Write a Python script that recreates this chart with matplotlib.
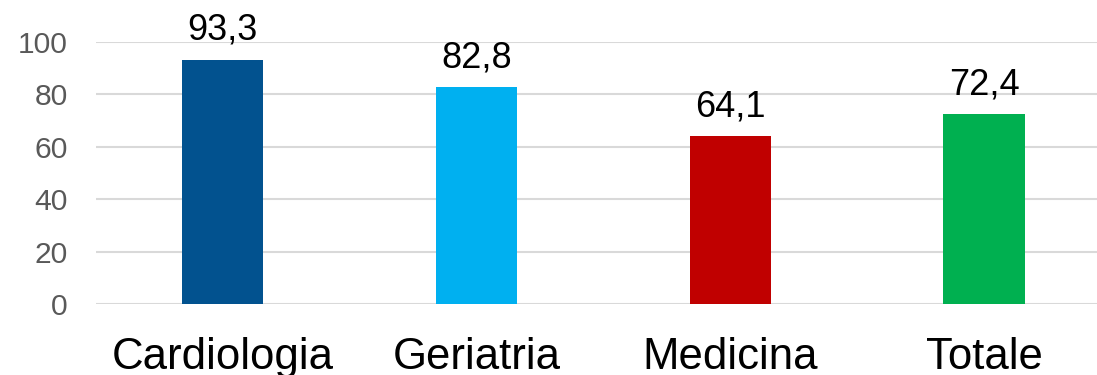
import matplotlib
matplotlib.use("Agg")
import matplotlib.pyplot as plt

categories = ["Cardiologia", "Geriatria", "Medicina", "Totale"]
values = [93.3, 82.8, 64.1, 72.4]
labels = ["93,3", "82,8", "64,1", "72,4"]
colors = ["#02528F", "#00B0F0", "#C00000", "#00B050"]
yticks = [0, 20, 40, 60, 80, 100]

plt.rcParams['font.family'] = ['Liberation Sans', 'DejaVu Sans']

fig = plt.figure(figsize=(10.97, 3.75), dpi=100)
W, H = 1097, 375
left, right = 95.6, 1111
bottom, top = 304, 42
ax = fig.add_axes([left / W, (H - bottom) / H, (right - left) / W, (bottom - top) / H])

x = list(range(len(categories)))
ax.bar(x, values, width=0.32, color=colors, zorder=3)
ax.set_xlim(-0.5, len(categories) - 0.5)
ax.set_ylim(0, 100)
ax.set_yticks(yticks)
ax.set_yticklabels([str(t) for t in yticks])
ax.set_xticks(x)
ax.set_xticklabels(categories)

for s in ax.spines.values():
    s.set_visible(False)
ax.grid(axis='y', color='#D9D9D9', linewidth=1.5, zorder=0)
ax.tick_params(axis='y', length=0, pad=20, labelsize=21.6, labelcolor='#595959')
ax.tick_params(axis='x', length=0, pad=24, labelsize=31.5, labelcolor='black')

for xi, v, lab in zip(x, values, labels):
    ax.annotate(lab, (xi, v), xytext=(0, 20), textcoords='offset pixels',
                ha='center', va='baseline', fontsize=26, color='black')

fig.savefig("out.png", dpi=100)
